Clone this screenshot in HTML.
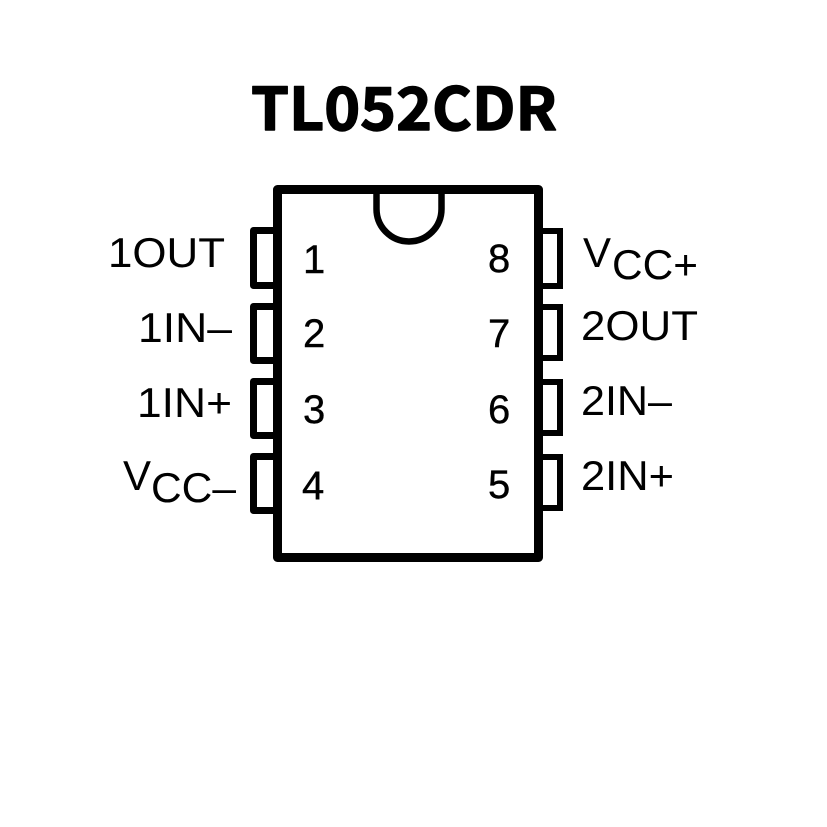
<!DOCTYPE html>
<html>
<head>
<meta charset="utf-8">
<style>
html,body{margin:0;padding:0;background:#fff;}
svg{display:block;}
</style>
</head>
<body>
<svg width="827" height="827" viewBox="0 0 827 827" xmlns="http://www.w3.org/2000/svg">
<rect width="827" height="827" fill="#fff"/>
<text x="251" y="130" font-family="'Noto Sans CJK SC','Liberation Sans',sans-serif" font-weight="700" font-size="59" textLength="306" lengthAdjust="spacingAndGlyphs" fill="#000" stroke="#000" stroke-width="1.4" stroke-linejoin="round">TL052CDR</text>

<!-- body -->
<rect x="277.5" y="189.5" width="261" height="368" fill="none" stroke="#000" stroke-width="9" stroke-linejoin="round"/>
<!-- notch -->
<path d="M376.5,193 V209 A32.5,32.5 0 0 0 441.5,209 V193" fill="none" stroke="#000" stroke-width="6.5"/>

<!-- left pins -->
<g fill="none" stroke="#000" stroke-width="7" stroke-linejoin="round">
<path d="M274,230.5 H253.5 V285.5 H274"/>
<path d="M274,306.5 H253.5 V360.5 H274"/>
<path d="M274,381.5 H253.5 V435.5 H274"/>
<path d="M274,456.5 H253.5 V510.5 H274"/>
</g>
<!-- right pins -->
<g fill="none" stroke="#000" stroke-width="6" stroke-linejoin="miter">
<path d="M542,231 H560 V286 H542"/>
<path d="M542,307 H560 V358 H542"/>
<path d="M542,382 H560 V433 H542"/>
<path d="M542,457 H560 V508 H542"/>
</g>

<g font-family="'Liberation Sans',Arial,sans-serif" fill="#000">
<!-- pin numbers -->
<g font-size="40" stroke="#000" stroke-width="0.4">
<text x="303" y="273">1</text>
<text x="303" y="347">2</text>
<text x="303" y="423">3</text>
<text x="302" y="499">4</text>
<text x="488" y="272">8</text>
<text x="488" y="347">7</text>
<text x="488" y="423">6</text>
<text x="488" y="498">5</text>
</g>
<!-- labels -->
<g font-size="42">
<text x="108" y="267" textLength="117" lengthAdjust="spacingAndGlyphs">1OUT</text>
<text x="138" y="342" textLength="94" lengthAdjust="spacingAndGlyphs">1IN–</text>
<text x="137" y="417" textLength="95" lengthAdjust="spacingAndGlyphs">1IN+</text>
<text x="123" y="490">V</text>
<text x="151" y="502" textLength="85" lengthAdjust="spacingAndGlyphs">CC–</text>

<text x="583" y="267">V</text>
<text x="612" y="279" textLength="86" lengthAdjust="spacingAndGlyphs">CC+</text>
<text x="581" y="340" textLength="117" lengthAdjust="spacingAndGlyphs">2OUT</text>
<text x="581" y="415" textLength="91" lengthAdjust="spacingAndGlyphs">2IN–</text>
<text x="581" y="490" textLength="93" lengthAdjust="spacingAndGlyphs">2IN+</text>
</g>
</g>
</svg>
</body>
</html>
